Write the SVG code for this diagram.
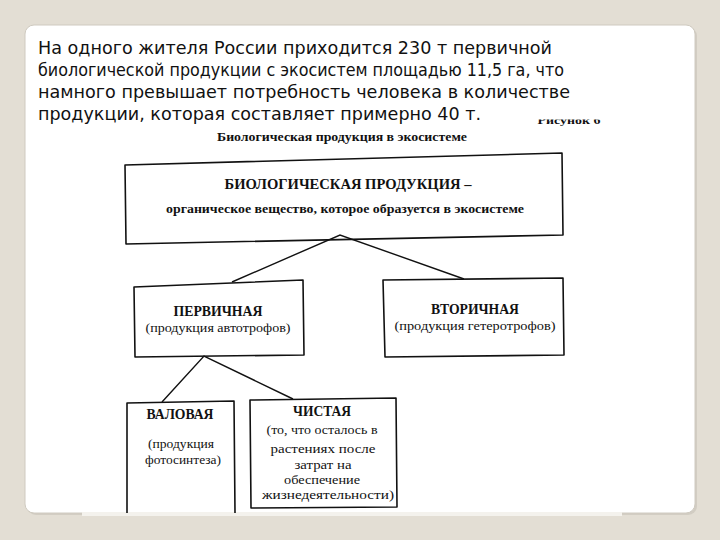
<svg xmlns="http://www.w3.org/2000/svg" width="720" height="540" viewBox="0 0 720 540">
  <style>
    .intro { font-family: "DejaVu Sans", "Noto Sans", sans-serif; font-size: 17px; fill: #111; }
    .bold { font-family: "Liberation Serif", "Times New Roman", serif; font-weight: bold; fill: #111; text-anchor: middle; }
    .reg { font-family: "Liberation Serif", "Times New Roman", serif; fill: #111; text-anchor: middle; }
    .box { fill: none; stroke: #111; stroke-width: 1.6; stroke-linejoin: round; }
    .edge { fill: none; stroke: #111; stroke-width: 1.4; }
  </style>
  <defs>
    <clipPath id="figclip"><rect x="520" y="119.5" width="100" height="10"/></clipPath>
  </defs>
  <rect x="0" y="0" width="720" height="540" fill="#e3ded4"/>
  <rect x="27" y="27" width="670" height="488" rx="9" fill="#d2cdc3"/>
  <rect x="25" y="25" width="670" height="488" rx="9" fill="#ffffff" stroke="#cfcac0" stroke-width="1"/>
  <rect x="82" y="512" width="540" height="4" fill="#f4f2ed"/>

  <g id="intro">
    <text class="intro" x="38" y="54" textLength="514" lengthAdjust="spacingAndGlyphs">На одного жителя России приходится 230 т первичной</text>
    <text class="intro" x="38" y="76" textLength="526" lengthAdjust="spacingAndGlyphs">биологической продукции с экосистем площадью 11,5 га, что</text>
    <text class="intro" x="38" y="98" textLength="532" lengthAdjust="spacingAndGlyphs">намного превышает потребность человека в количестве</text>
    <text class="intro" x="38" y="120" textLength="443" lengthAdjust="spacingAndGlyphs">продукции, которая составляет примерно 40 т.</text>
  </g>

  <g id="caption">
    <text class="bold" x="569" y="124" font-size="11" textLength="63" lengthAdjust="spacingAndGlyphs" clip-path="url(#figclip)">Рисунок 6</text>
    <text class="bold" x="342" y="141" font-size="12" textLength="250" lengthAdjust="spacingAndGlyphs">Биологическая продукция в экосистеме</text>
  </g>

  <g id="connectors">
    <polyline class="edge" points="232,282 340,235 464,279"/>
    <polyline class="edge" points="162,402 204,356 293,399"/>
  </g>

  <g id="node-bio">
    <polygon class="box" points="125,165 562,153 563,235 126,244"/>
    <text class="bold" x="348" y="189" font-size="14" textLength="247" lengthAdjust="spacingAndGlyphs">БИОЛОГИЧЕСКАЯ ПРОДУКЦИЯ –</text>
    <text class="bold" x="345" y="213" font-size="13" textLength="358" lengthAdjust="spacingAndGlyphs">органическое вещество, которое образуется в экосистеме</text>
  </g>

  <g id="node-primary">
    <polygon class="box" points="134,287 303,280 304,355 135,357"/>
    <text class="bold" x="218" y="316" font-size="14" textLength="89" lengthAdjust="spacingAndGlyphs">ПЕРВИЧНАЯ</text>
    <text class="reg" x="218" y="332" font-size="13" textLength="145" lengthAdjust="spacingAndGlyphs">(продукция автотрофов)</text>
  </g>

  <g id="node-secondary">
    <polygon class="box" points="383,280 563,278 564,355 385,357"/>
    <text class="bold" x="475" y="314" font-size="14" textLength="88" lengthAdjust="spacingAndGlyphs">ВТОРИЧНАЯ</text>
    <text class="reg" x="475" y="330" font-size="13" textLength="161" lengthAdjust="spacingAndGlyphs">(продукция гетеротрофов)</text>
  </g>

  <g id="node-gross">
    <polyline class="box" points="127,513 127,403 234,401 235,513"/>
    <text class="bold" x="180" y="419" font-size="14" textLength="67" lengthAdjust="spacingAndGlyphs">ВАЛОВАЯ</text>
    <text class="reg" x="181" y="448" font-size="13" textLength="66" lengthAdjust="spacingAndGlyphs">(продукция</text>
    <text class="reg" x="183" y="464" font-size="13" textLength="76" lengthAdjust="spacingAndGlyphs">фотосинтеза)</text>
  </g>

  <g id="node-net">
    <polygon class="box" points="250,400 396,398 397,507 251,508"/>
    <text class="bold" x="322" y="416" font-size="14" textLength="58" lengthAdjust="spacingAndGlyphs">ЧИСТАЯ</text>
    <text class="reg" x="322" y="434" font-size="13" textLength="111" lengthAdjust="spacingAndGlyphs">(то, что осталось в</text>
    <text class="reg" x="323" y="453" font-size="13" textLength="105" lengthAdjust="spacingAndGlyphs">растениях после</text>
    <text class="reg" x="323" y="469" font-size="13" textLength="57" lengthAdjust="spacingAndGlyphs">затрат на</text>
    <text class="reg" x="322" y="484" font-size="13" textLength="76" lengthAdjust="spacingAndGlyphs">обеспечение</text>
    <text class="reg" x="328" y="499" font-size="13" textLength="132" lengthAdjust="spacingAndGlyphs">жизнедеятельности)</text>
  </g>
</svg>
